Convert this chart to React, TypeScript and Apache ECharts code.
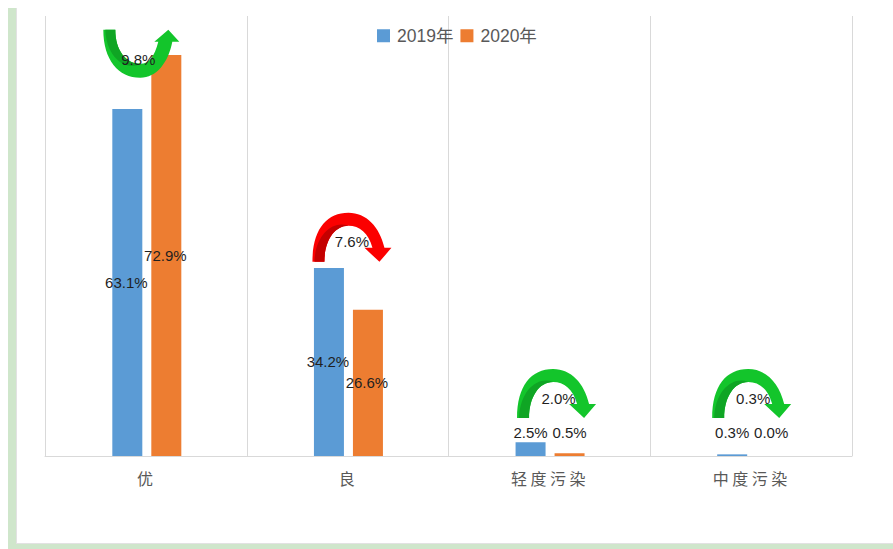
import React, { useEffect, useRef } from "react";
import * as echarts from "echarts";

const categories = ["优", "良", "轻度污染", "中度污染"];
const values2019 = [63.1, 34.2, 2.5, 0.3];
const values2020 = [72.9, 26.6, 0.5, 0.0];
const changeLabels = ["9.8%", "7.6%", "2.0%", "0.3%"];
const changeDirections = ["up", "down", "down", "down"];
const changeColors = ["green", "red", "green", "green"];
// value-axis level of the end of each curved arrow
const arrowBaseLevels = [77.5, 35.3, 6.9, 6.9];
const arrowShift = [-43.5, -36, -33, -39.5];
const labelShift = [-8.5, 3.5, 8.5, 1.5];

const CFONT = "'Liberation Sans','Noto Sans CJK SC',sans-serif";

// Curved arrow, in a 0..80 x 0..49 box, pointing down at the right end
const arrowDown =
  "M0 49 C0 17 14 0 36 0 C54 0 67 14 72 35 L79 35 L67 49 L52 35 L60 35 C56 20 47 13 36 13 C22 13 12 28 12 49 Z";
const arrowDownShade =
  "M0 49 L12 49 C12 28 22 13 36 13 C22 7 3 20 2 49 Z";
const arrowUp =
  "M0 0 C0 30 15 48 37 48 C53 48 65 33 69 12 L76 12 L65 0 L51 12 L55 12 C51 27 46 34 37 34 C23 34 12 21 12 0 Z";
const arrowUpShade =
  "M0 0 L12 0 C12 21 23 34 37 34 C23 42 3 28 2 0 Z";

const palette: Record<string, [string, string]> = {
  green: ["#13c52b", "#0fa524"],
  red: ["#fb0000", "#c40000"],
};

// small bars carry their label on one common line above the axis
const labelFor = (v: number) =>
  v < 5
    ? { position: "top" as const, distance: 1, offset: [0, -(15 - 5.5 * v)] }
    : { position: "inside" as const, offset: [-1, 0] };

const barSeries = (name: string, values: number[], color: string) => ({
  name,
  type: "bar" as const,
  barWidth: 30,
  barGap: "30%",
  itemStyle: { color },
  data: values.map((v) => ({ value: v, label: labelFor(v) })),
  label: {
    show: true,
    formatter: (p: any) => `${Number(p.value).toFixed(1)}%`,
    fontFamily: CFONT,
    fontSize: 15,
    color: "#1f1f1f",
  },
});

export default function App() {
  const ref = useRef<HTMLDivElement>(null);
  useEffect(() => {
    if (!ref.current) return;
    const chart = echarts.init(ref.current, undefined, { renderer: "svg" });
    chart.setOption({
      animation: false,
      backgroundColor: "#ffffff",
      grid: [
        { left: 46, right: 40.5, top: 16, bottom: 93 },
        { left: 45, right: 41, top: 16, bottom: 93 },
      ],
      legend: {
        top: 27,
        left: 377,
        padding: 0,
        itemWidth: 13,
        itemHeight: 13,
        itemGap: 7,
        icon: "rect",
        selectedMode: false,
        textStyle: { fontFamily: CFONT, fontSize: 17.5, color: "#595959", padding: [0, 0, 0, 2] },
        data: ["2019年", "2020年"],
      },
      xAxis: [
        {
          type: "category",
          gridIndex: 0,
          data: categories,
          axisTick: { show: false },
          axisLine: { show: false },
          splitLine: { show: false },
          axisLabel: {
            fontFamily: CFONT,
            fontSize: 16,
            color: "#595958",
            margin: 15,
          },
        },
        {
          type: "category",
          gridIndex: 1,
          data: categories,
          axisTick: { show: false },
          axisLabel: { show: false },
          axisLine: { lineStyle: { color: "#d9d9d9", width: 1 } },
          splitLine: { show: true, lineStyle: { color: "#d9d9d9", width: 1 } },
        },
      ],
      yAxis: [0, 1].map((gridIndex) => ({
        type: "value",
        gridIndex,
        min: 0,
        max: 80,
        interval: 20,
        show: false,
        splitLine: { show: false },
      })),
      series: [
        barSeries("2019年", values2019, "#5b9bd5"),
        barSeries("2020年", values2020, "#ed7d31"),
        {
          type: "custom",
          silent: true,
          z: 5,
          data: categories.map((_, i) => [i, arrowBaseLevels[i]]),
          encode: { x: 0, y: 1 },
          renderItem: (_p: any, api: any) => {
            const i = api.value(0);
            const [cx, cy] = api.coord([i, api.value(1)]);
            const up = changeDirections[i] === "up";
            const [main, dark] = palette[changeColors[i]];
            const x = cx + arrowShift[i];
            const y = up ? cy : cy - 49;
            return {
              type: "group",
              children: [
                {
                  type: "path",
                  x,
                  y,
                  shape: { pathData: up ? arrowUp : arrowDown },
                  style: { fill: main },
                },
                {
                  type: "path",
                  x,
                  y,
                  shape: { pathData: up ? arrowUpShade : arrowDownShade },
                  style: { fill: dark },
                },
                {
                  type: "text",
                  x: cx + labelShift[i],
                  y: up ? cy + 30 : cy - 20,
                  style: {
                    text: changeLabels[i],
                    fontFamily: CFONT,
                    fontSize: 15,
                    fill: "#1f1f1f",
                    align: "center",
                    verticalAlign: "middle",
                  },
                },
              ],
            };
          },
        },
      ],
      graphic: [
        { type: "rect", silent: true, shape: { x: 8, y: 8, width: 9, height: 541 }, style: { fill: "#e2e2e2" } },
        { type: "rect", silent: true, shape: { x: 8, y: 8, width: 8, height: 541 }, style: { fill: "#cfe6cb" } },
        { type: "rect", silent: true, shape: { x: 16, y: 543, width: 877, height: 1 }, style: { fill: "#e2e2e2" } },
        { type: "rect", silent: true, shape: { x: 8, y: 544, width: 885, height: 5 }, style: { fill: "#cfe6cb" } },
      ],
    });
    return () => chart.dispose();
  }, []);
  return (
    <>
      <style>{`body{margin:0;background:#fff} text[fill="#595958"]{letter-spacing:3.5px}`}</style>
      <div ref={ref} style={{ position: "fixed", left: 0, top: 0, width: 893, height: 549 }} />
    </>
  );
}
